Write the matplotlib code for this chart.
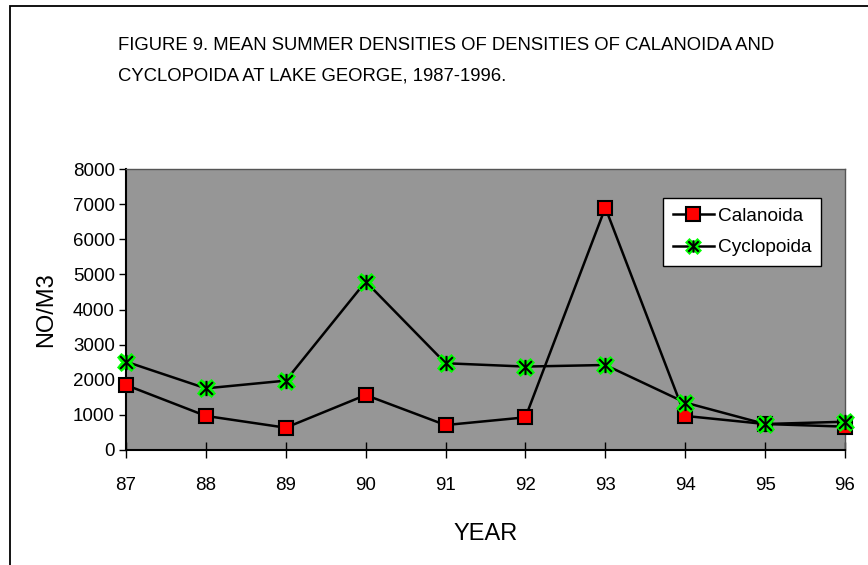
import matplotlib
matplotlib.use("Agg")
import matplotlib.pyplot as plt
from matplotlib.path import Path
from matplotlib.patches import Rectangle
from matplotlib.lines import Line2D

years = [87, 88, 89, 90, 91, 92, 93, 94, 95, 96]
calanoida = [1850, 970, 635, 1565, 710, 930, 6900, 970, 740, 665]
cyclopoida = [2515, 1755, 1975, 4795, 2470, 2375, 2420, 1350, 740, 805]
yticks = [0, 1000, 2000, 3000, 4000, 5000, 6000, 7000, 8000]

plt.rcParams['font.family'] = ['Liberation Sans', 'DejaVu Sans']

W, H = 868, 565
fig = plt.figure(figsize=(W/100, H/100), dpi=100)
fig.patch.set_facecolor('white')
fig.patches.append(Rectangle((10/W, -0.01), 1.0, 1 - 6/H + 0.01, transform=fig.transFigure,
                             fill=False, edgecolor='black', linewidth=1.3))

ax = fig.add_axes([126/W, 1-450/H, (845-126)/W, (450-169)/H])
ax.set_facecolor('#969696')

star = Path([(-1, -1), (1, 1), (-1, 1), (1, -1), (0, -1.2), (0, 1.2)],
            [Path.MOVETO, Path.LINETO, Path.MOVETO, Path.LINETO, Path.MOVETO, Path.LINETO])

ax.plot(years, calanoida, color='black', lw=1.8, marker='s', ms=10,
        markerfacecolor='#ff0000', markeredgecolor='black', markeredgewidth=1.5,
        zorder=3, clip_on=False)
ax.plot(years, cyclopoida, color='black', lw=1.8, marker='X', ms=13,
        markerfacecolor='#00ff00', markeredgecolor='#00ff00', markeredgewidth=0.5,
        zorder=4, clip_on=False)
ax.plot(years, cyclopoida, linestyle='none', marker=star, ms=11,
        markeredgecolor='black', markeredgewidth=1.5, zorder=5, clip_on=False)

ax.set_xlim(87, 96)
ax.set_ylim(0, 8000)
ax.set_xticks(years)
ax.set_xticklabels([str(y) for y in years], fontsize=13.5)
ax.set_yticks(yticks)
ax.set_yticklabels([str(v) for v in yticks], fontsize=13.5)
ax.tick_params(axis='x', direction='inout', length=12, width=1, pad=13.5)
ax.tick_params(axis='y', direction='out', length=5, width=1, pad=3)
for s in ['left', 'bottom']:
    ax.spines[s].set_linewidth(1.5)
    ax.spines[s].set_color('black')
for s in ['top', 'right']:
    ax.spines[s].set_linewidth(1)
    ax.spines[s].set_color('#555555')

ax.set_xlabel('YEAR', fontsize=17, labelpad=20.5)
ax.set_ylabel('NO/M3', fontsize=17, labelpad=11)

h1 = Line2D([], [], color='black', lw=1.8, marker='s', ms=10,
            markerfacecolor='#ff0000', markeredgecolor='black', markeredgewidth=1.5)
h2 = Line2D([], [], color='black', lw=1.8, marker='X', ms=11,
            markerfacecolor='#00ff00', markeredgecolor='#00ff00', markeredgewidth=0.5)
h2b = Line2D([], [], linestyle='none', marker=star, ms=9,
             markeredgecolor='black', markeredgewidth=1.5)
leg = ax.legend([h1, (h2, h2b)], ['Calanoida', 'Cyclopoida'],
                loc='upper left', bbox_to_anchor=((663-126)/(845-126), (450-198)/(450-169)),
                fontsize=13.7, frameon=True, fancybox=False, edgecolor='black',
                framealpha=1, borderpad=0.5, handlelength=2.2, handletextpad=0.2,
                labelspacing=0.75, borderaxespad=0)
leg.get_frame().set_linewidth(1)

tfs = 13.3
fig.text(118/W, 1-45/H, 'FIGURE 9. MEAN SUMMER DENSITIES OF DENSITIES OF CALANOIDA AND',
         fontsize=tfs, va='center', ha='left')
fig.text(118/W, 1-76/H, 'CYCLOPOIDA AT LAKE GEORGE, 1987-1996.',
         fontsize=tfs, va='center', ha='left')

fig.savefig('out.png', dpi=100)
